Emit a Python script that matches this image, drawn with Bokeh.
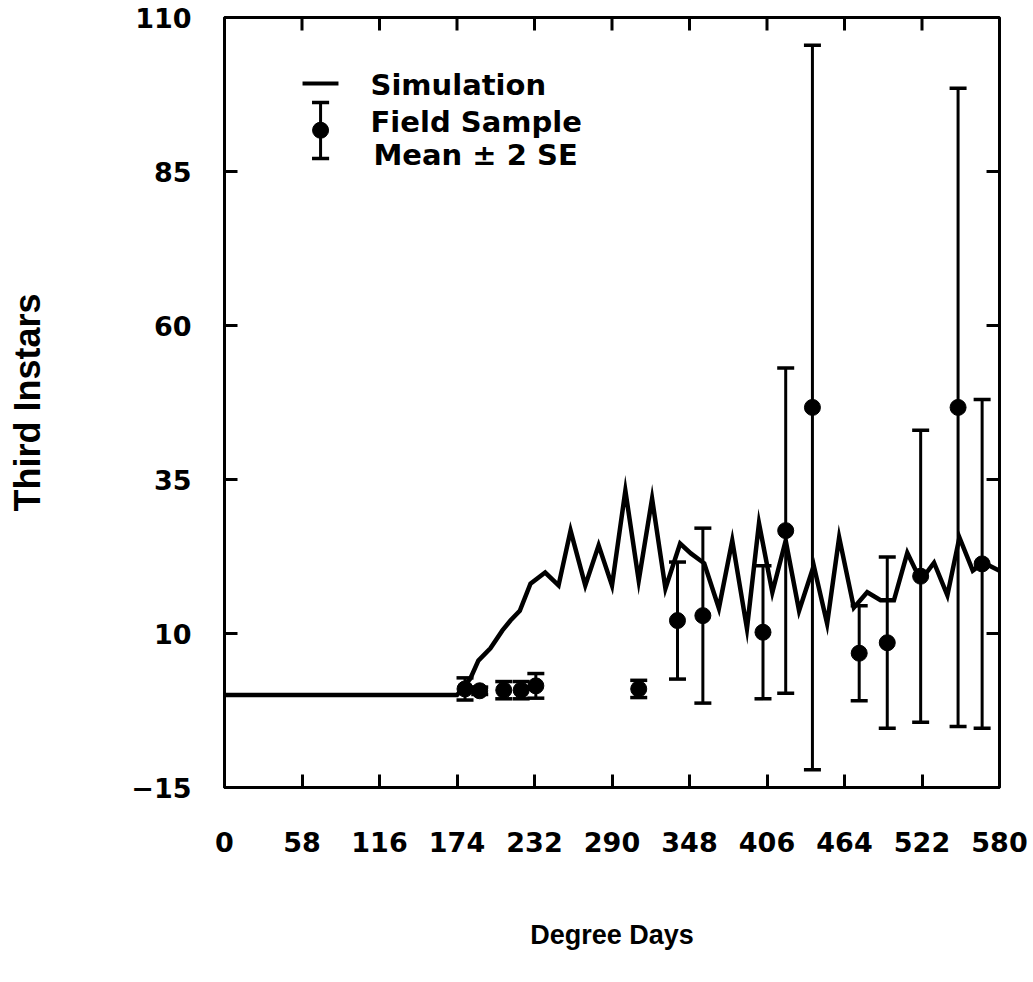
from bokeh.plotting import figure
from bokeh.models import Range1d, FixedTicker, Whisker, TeeHead, ColumnDataSource
from bokeh.embed import file_html
from bokeh.resources import INLINE
from bokeh.core.properties import value

# ---- data ----
sim_x = [0, 174, 184, 190, 199, 208, 214, 221, 229, 240, 250, 259, 270, 280, 290, 300, 310,
         320, 330, 341, 349, 359, 370, 380, 391, 400, 410, 420, 430, 441, 451, 460, 471,
         481, 491, 501, 511, 521, 531, 541, 550, 560, 568, 580]
sim_y = [0, 0, 2.7, 5.6, 7.6, 10.5, 12.1, 13.7, 18.1, 19.9, 17.8, 26.7, 17.8, 24.3, 17.8, 33.2, 18.6,
         31.9, 17.3, 24.6, 23.0, 21.4, 14.1, 25.1, 10.8, 27.9, 16.7, 25.1, 13.7, 21.0, 11.6, 25.6, 14.2,
         16.7, 15.4, 15.4, 23.1, 18.6, 21.5, 16.2, 25.6, 20.2, 21.5, 20.2]

obs_x = [180, 191, 209, 222, 233, 310, 339, 358, 403, 420, 440, 475, 496, 521, 549, 567]
obs_mean = [1.0, 0.7, 0.8, 0.8, 1.5, 1.0, 12.1, 12.9, 10.2, 26.7, 46.7, 6.8, 8.5, 19.3, 46.7, 21.3]
obs_2se = [1.8, 0.6, 1.4, 1.4, 2.0, 1.4, 9.5, 14.2, 10.8, 26.4, 58.8, 7.7, 13.9, 23.7, 51.8, 26.7]

x_ticks = [0, 58, 116, 174, 232, 290, 348, 406, 464, 522, 580]
y_ticks = [-15, 0, 10, 35, 60, 85, 110]
y_tick_labels = {-15: "\u221215", 0: "", 10: "10", 35: "35", 60: "60", 85: "85", 110: "110"}
x_ticks_top = [58, 116, 174, 232, 290, 348, 406, 464, 522]
y_ticks_right = [10, 35, 60, 85]

legend_labels = ["Simulation", "Field Sample", "Mean \u00b1 2 SE"]

X0, X1, Y0, Y1 = 0, 580, -15, 110

# ---- figure ----
p = figure(width=1033, height=982, output_backend="svg", toolbar_location=None,
           x_range=Range1d(X0, X1), y_range=Range1d(Y0, Y1),
           min_border_left=224, min_border_right=34, min_border_top=17, min_border_bottom=195)
p.background_fill_color = "white"
p.border_fill_color = "white"
p.grid.visible = False
p.outline_line_color = "black"
p.outline_line_width = 3

xa = p.xaxis[0]
xa.ticker = FixedTicker(ticks=x_ticks)
ya = p.yaxis[0]
ya.ticker = FixedTicker(ticks=y_ticks)
ya.major_label_overrides = y_tick_labels

for ax in (xa, ya):
    ax.axis_line_width = 3
    ax.major_tick_in = 13
    ax.major_tick_out = 0
    ax.major_tick_line_width = 3
    ax.minor_tick_line_color = None
    ax.major_label_text_font = "DejaVu Sans"
    ax.major_label_text_font_style = "bold"
    ax.major_label_text_font_size = "27px"
    ax.major_label_text_color = "black"
    ax.axis_label_text_font = "Liberation Sans"
    ax.axis_label_text_font_style = "bold"
    ax.axis_label_text_color = "black"

xa.axis_label = "Degree Days"
xa.axis_label_text_font_size = "27px"
xa.major_label_standoff = 44
xa.axis_label_standoff = 65

ya.axis_label = "Third Instars"
ya.axis_label_text_font_size = "36px"
ya.major_label_standoff = 33
ya.axis_label_standoff = 80

# ---- inward ticks on the top and right frame edges ----
tick_dx = 9.7   # ~13 px in x data units
tick_dy = 2.1   # ~13 px in y data units
p.segment(x0=x_ticks_top, y0=[Y1] * len(x_ticks_top), x1=x_ticks_top,
          y1=[Y1 - tick_dy] * len(x_ticks_top), line_color="black", line_width=3)
p.segment(x0=[X1] * len(y_ticks_right), y0=y_ticks_right, x1=[X1 - tick_dx] * len(y_ticks_right),
          y1=y_ticks_right, line_color="black", line_width=3)

# ---- simulation line ----
p.line(sim_x, sim_y, line_color="black", line_width=4.5, line_join="miter")

# ---- field samples with +-2SE ----
src = ColumnDataSource(dict(
    x=obs_x, m=obs_mean,
    lo=[m - s for m, s in zip(obs_mean, obs_2se)],
    hi=[m + s for m, s in zip(obs_mean, obs_2se)],
))
w = Whisker(source=src, base="x", lower="lo", upper="hi", dimension="height",
            line_color="black", line_width=3,
            upper_head=TeeHead(size=17, line_width=3.5, line_color="black"),
            lower_head=TeeHead(size=17, line_width=3.5, line_color="black"))
p.add_layout(w)
p.scatter("x", "m", source=src, size=16, marker="circle", fill_color="black", line_color="black")

# ---- legend (drawn in plot coordinates) ----
p.segment(x0=[58.4], y0=[99.3], x1=[85.3], y1=[99.3], line_color="black", line_width=4)
p.segment(x0=[71.9], y0=[87.1], x1=[71.9], y1=[96.2], line_color="black", line_width=3)
p.segment(x0=[65.5, 65.5], y0=[96.2, 87.1], x1=[78.3, 78.3], y1=[96.2, 87.1], line_color="black", line_width=3.5)
p.scatter([71.9], [91.7], size=16, fill_color="black", line_color="black")
p.text(x=[109.3, 109.3, 111.5], y=[99.0, 93.1, 87.6], text=legend_labels,
       text_font=value("DejaVu Sans"), text_font_style="bold", text_font_size="29px",
       text_baseline="middle", text_align="left", text_color="black")

open("out.html", "w").write(file_html(p, INLINE))
